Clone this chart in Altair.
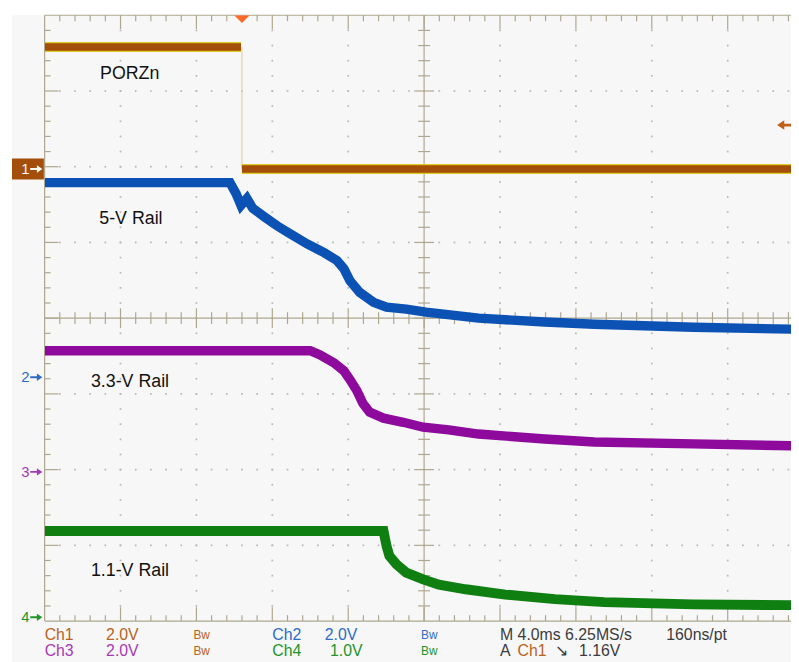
import altair as alt
import numpy as np
import pandas as pd

# ---------------- scope settings ----------------
TIME_PER_DIV = 4.0      # ms / div   ("M 4.0ms")
TRIG_POS_DIV = 2.6      # trigger position, divisions from left edge
X_VISIBLE_DIV = 9.834   # visible part of the 10-division screen
Y_DIVS = 8
channels = ["Ch1", "Ch2", "Ch3", "Ch4"]
volts_per_div = [2.0, 2.0, 2.0, 1.0]
ground_div = [5.97, 3.22, 1.97, 0.05]          # ground marker, divisions from bottom
trace_colors = ["#a34f0b", "#0b52b4", "#8e0a9c", "#0f7f12"]
label_colors = ["#b8641e", "#2f6cc4", "#a63ab4", "#22952a"]
trigger_level_v = 1.16

# ---------------- traces (time in ms from trigger, volts) ----------------
ch1_t = [-10.38, -0.05, 0.0, 28.96]
ch1_v = [3.22, 3.22, 0.0, 0.0]
ch1_seg = ["high", "high", "low", "low"]

ch2_t = [-10.38, -0.63, -0.31, -0.05, 0.26, 0.57, 1.20, 1.88, 2.56, 3.44, 4.33, 5.01,
         5.37, 5.69, 6.21, 6.94, 7.62, 8.66, 9.70, 12.47, 15.96, 18.57, 23.79, 28.96]
ch2_v = [5.14, 5.14, 4.85, 4.54, 4.72, 4.46, 4.23, 3.99, 3.78, 3.52, 3.29, 3.08,
         2.87, 2.55, 2.24, 1.98, 1.85, 1.80, 1.72, 1.56, 1.46, 1.40, 1.32, 1.27]

ch3_t = [-10.38, 3.60, 4.12, 4.85, 5.37, 5.69, 6.05, 6.37, 6.73, 7.46, 8.50, 9.55,
         10.90, 12.47, 15.96, 18.57, 23.79, 28.96]
ch3_v = [3.20, 3.20, 3.09, 2.88, 2.67, 2.44, 2.15, 1.81, 1.58, 1.42, 1.31, 1.18,
         1.11, 1.00, 0.87, 0.79, 0.74, 0.69]

ch4_t = [-10.38, 7.46, 7.62, 7.77, 8.14, 8.66, 9.55, 10.38, 11.79, 13.88, 16.49,
         19.09, 23.79, 28.96]
ch4_v = [1.14, 1.14, 0.94, 0.81, 0.70, 0.59, 0.50, 0.43, 0.37, 0.30, 0.24,
         0.20, 0.17, 0.16]

trace_labels = ["PORZn", "5-V Rail", "3.3-V Rail", "1.1-V Rail"]

status_row1 = ["Ch1", "2.0V", "Bw", "Ch2", "2.0V", "Bw", "M 4.0ms 6.25MS/s", "160ns/pt"]
status_row2 = ["Ch3", "2.0V", "Bw", "Ch4", "1.0V", "Bw", "A", "Ch1", "\u2198", "1.16V"]

# ---------------- helpers ----------------
GRAT = "#aea78f"
DOT = "#b9b9b9"
FONT = "Liberation Sans"

xs = alt.Scale(domain=[0, X_VISIBLE_DIV], nice=False, zero=False)
ys = alt.Scale(domain=[0, Y_DIVS], nice=False, zero=False)
X = alt.X("xd:Q", scale=xs, axis=None)
Y = alt.Y("yd:Q", scale=ys, axis=None)


def trace_df(t, v, ch, seg=None):
    i = channels.index(ch)
    df = pd.DataFrame({"t": t, "v": v})
    df["seg"] = seg if seg is not None else "all"
    df["xd"] = df["t"] / TIME_PER_DIV + TRIG_POS_DIV
    df["yd"] = df["v"] / volts_per_div[i] + ground_div[i]
    return df


def xdiv(t):
    return t / TIME_PER_DIV + TRIG_POS_DIV


def ydiv(v, ch):
    i = channels.index(ch)
    return v / volts_per_div[i] + ground_div[i]


layers = []

# background of the screen
bg = pd.DataFrame({"xd": [-0.43], "xd2": [X_VISIBLE_DIV], "yd": [-0.7], "yd2": [Y_DIVS]})
layers.append(alt.Chart(bg).mark_rect(color="#f7f7f7").encode(
    x=X, x2="xd2:Q", y=Y, y2="yd2:Q"))

# dotted graticule
dots = []
for k in range(1, 10):
    if k == 5:
        continue
    for j in range(1, Y_DIVS * 5):
        dots.append((k, j / 5))
for j in range(1, Y_DIVS):
    if j == 4:
        continue
    for i in range(1, 50):
        dots.append((i / 5, j))
dots_df = pd.DataFrame(dots, columns=["xd", "yd"])
layers.append(alt.Chart(dots_df).mark_square(size=3, color=DOT, opacity=1).encode(x=X, y=Y))

# frame and centre lines
frame = pd.DataFrame({
    "xd": [0, 0, 0, 5, 0],
    "xd2": [0, X_VISIBLE_DIV, X_VISIBLE_DIV, 5, X_VISIBLE_DIV],
    "yd": [0, Y_DIVS, 0, 0, 4],
    "yd2": [Y_DIVS, Y_DIVS, 0, Y_DIVS, 4],
})
layers.append(alt.Chart(frame).mark_rule(color=GRAT, strokeWidth=1.2).encode(
    x=X, x2="xd2:Q", y=Y, y2="yd2:Q"))

# ticks
minor_x = [i / 5 for i in range(1, 50) if i % 5]
major_x = list(range(1, 10))
minor_y = [j / 5 for j in range(1, Y_DIVS * 5) if j % 5]
major_y = list(range(1, Y_DIVS))


def tick_layer(xv, yv, orient, size, xo=0, yo=0):
    df = pd.DataFrame({"xd": xv, "yd": yv})
    return alt.Chart(df).mark_tick(orient=orient, size=size, thickness=1.2, color=GRAT,
                                   xOffset=xo, yOffset=yo, opacity=1).encode(x=X, y=Y)


layers += [
    tick_layer(minor_x, [Y_DIVS] * len(minor_x), "vertical", 6, yo=3),
    tick_layer(major_x, [Y_DIVS] * len(major_x), "vertical", 14, yo=7),
    tick_layer(minor_x, [0] * len(minor_x), "vertical", 6, yo=-3),
    tick_layer(major_x, [0] * len(major_x), "vertical", 14, yo=-7),
    tick_layer([0] * len(minor_y), minor_y, "horizontal", 6, xo=3),
    tick_layer([0] * len(major_y), major_y, "horizontal", 14, xo=7),
    tick_layer([5] * len(minor_y), minor_y, "horizontal", 12),
    tick_layer([5] * len(major_y), major_y, "horizontal", 20),
    tick_layer(minor_x, [4] * len(minor_x), "vertical", 12),
    tick_layer(major_x, [4] * len(major_x), "vertical", 20),
]

# traces
for t, v, ch, w in [(ch4_t, ch4_v, "Ch4", 10), (ch3_t, ch3_v, "Ch3", 9.5),
                    (ch2_t, ch2_v, "Ch2", 9.5)]:
    df = trace_df(t, v, ch)
    layers.append(alt.Chart(df).mark_line(
        color=trace_colors[channels.index(ch)], strokeWidth=w, strokeCap="butt",
        clip=True).encode(x=X, y=Y, order="t:Q"))

ch1 = trace_df(ch1_t, ch1_v, "Ch1", ch1_seg)
edge = pd.DataFrame({"xd": [xdiv(0.0)], "yd": [ydiv(0.0, "Ch1")], "yd2": [ydiv(3.22, "Ch1")]})
layers.append(alt.Chart(edge).mark_rule(color="#d9c9a0", strokeWidth=1).encode(
    x=X, y=Y, y2="yd2:Q"))
layers.append(alt.Chart(ch1).mark_line(color="#dccb22", strokeWidth=10, strokeCap="butt",
                                       clip=True).encode(x=X, y=Y, detail="seg:N", order="t:Q"))
layers.append(alt.Chart(ch1).mark_line(color=trace_colors[0], strokeWidth=7.5, strokeCap="butt",
                                       clip=True).encode(x=X, y=Y, detail="seg:N", order="t:Q"))

# trace labels
lab = pd.DataFrame({
    "text": trace_labels,
    "xd": [0.73, 0.72, 0.61, 0.61],
    "yd": [7.23, 5.31, 3.16, 0.66],
})
layers.append(alt.Chart(lab).mark_text(align="left", baseline="middle", fontSize=18,
                                       font=FONT, color="#111111").encode(
    x=X, y=Y, text="text:N"))

# ground markers on the left
box = pd.DataFrame({"xd": [-0.43], "xd2": [-0.01],
                    "yd": [ground_div[0] - 0.14], "yd2": [ground_div[0] + 0.14]})
layers.append(alt.Chart(box).mark_rect(color=trace_colors[0]).encode(
    x=X, x2="xd2:Q", y=Y, y2="yd2:Q"))
gm = pd.DataFrame({"text": ["1", "2", "3", "4"],
                   "xd": [-0.2] * 4, "yd": ground_div,
                   "color": ["#ffffff"] + label_colors[1:]})
layers.append(alt.Chart(gm).mark_text(align="right", baseline="middle", fontSize=15,
                                      font=FONT).encode(
    x=X, y=Y, text="text:N", color=alt.Color("color:N", scale=None)))
layers.append(alt.Chart(gm).mark_point(
    shape="M-1,-0.16L0.1,-0.16L0.1,-0.6L1,0L0.1,0.6L0.1,0.16L-1,0.16Z",
    size=150, filled=True, opacity=1).encode(
    x=X, y=Y, color=alt.Color("color:N", scale=None)).transform_calculate(
    xd="-0.11"))

# trigger position marker (top) and trigger level marker (right)
tp = pd.DataFrame({"xd": [xdiv(0.0)], "yd": [Y_DIVS]})
layers.append(alt.Chart(tp).mark_point(shape="M-1,-0.5L1,-0.5L0,0.5Z", size=230, filled=True,
                                       color="#ff6a26", opacity=1, yOffset=4).encode(x=X, y=Y))
tl = pd.DataFrame({"xd": [X_VISIBLE_DIV], "yd": [ydiv(trigger_level_v, "Ch1")]})
layers.append(alt.Chart(tl).mark_point(
    shape="M-1,0L-0.1,-0.6L-0.1,-0.18L1,-0.18L1,0.18L-0.1,0.18L-0.1,0.6Z",
    size=260, filled=True, color="#c0601a", opacity=1, xOffset=-6).encode(x=X, y=Y))

# status read-out below the screen
row1_x = [0.0, 0.81, 1.96, 3.0, 3.69, 4.96, 6.0, 8.19]
row1_c = [label_colors[0], label_colors[0], label_colors[0], label_colors[1], label_colors[1],
          label_colors[1], "#3c3c3c", "#3c3c3c"]
row2_x = [0.0, 0.81, 1.96, 3.0, 3.76, 4.96, 6.0, 6.23, 6.72, 7.04]
row2_c = [label_colors[2], label_colors[2], label_colors[0], label_colors[3], label_colors[3],
          label_colors[3], "#3c3c3c", label_colors[0], "#3c3c3c", "#3c3c3c"]
st = pd.DataFrame({
    "text": status_row1 + status_row2,
    "xd": row1_x + row2_x,
    "yd": [-0.19] * len(status_row1) + [-0.4] * len(status_row2),
    "color": row1_c + row2_c,
    "fs": [12 if s == "Bw" else 16 for s in status_row1 + status_row2],
})
layers.append(alt.Chart(st).mark_text(align="left", baseline="middle", font=FONT).encode(
    x=X, y=Y, text="text:N", color=alt.Color("color:N", scale=None),
    size=alt.Size("fs:Q", scale=None)))

chart = alt.layer(*layers).properties(
    width=754, height=612,
    autosize=alt.AutoSizeParams(type="none"),
    padding={"left": 37, "top": 4, "right": 0, "bottom": 38},
    background="#ffffff",
).configure_view(stroke=None)

chart.save("out.html", embed_options={"renderer": "svg", "actions": False})
